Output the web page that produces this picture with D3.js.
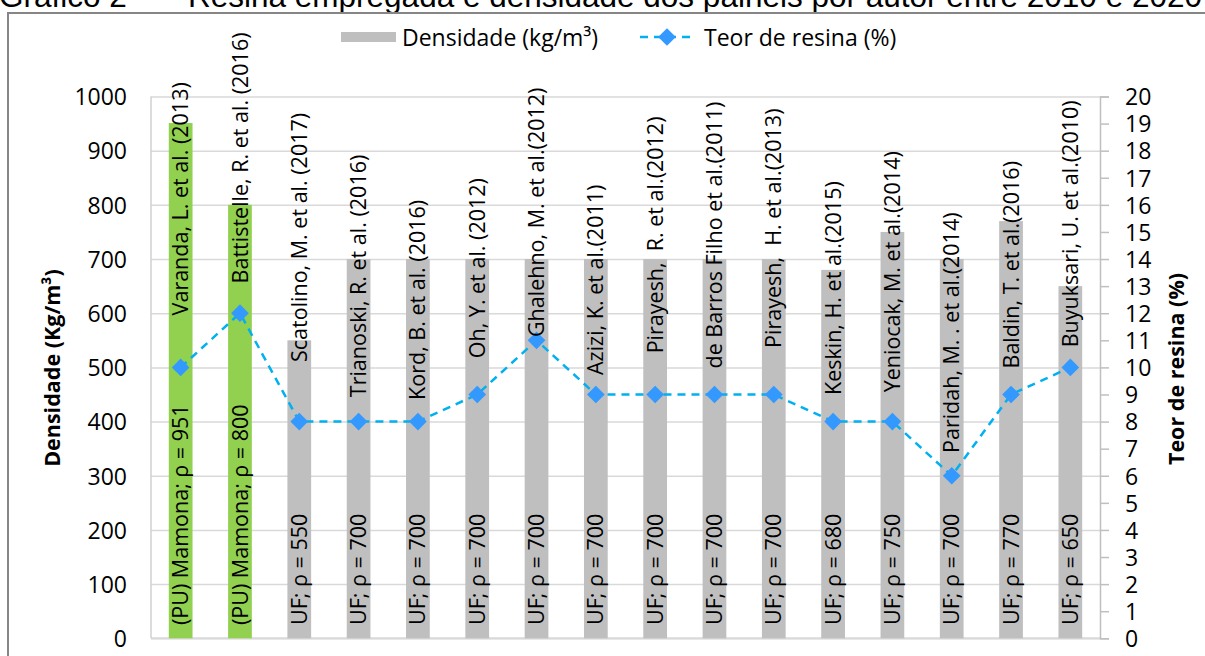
<!DOCTYPE html>
<html>
<head>
<meta charset="utf-8">
<script src="https://cdn.jsdelivr.net/npm/d3@7/dist/d3.min.js"></script>
<style>
  html, body { margin: 0; padding: 0; background: #ffffff; }
  svg { display: block; }
  text { white-space: pre; }
</style>
</head>
<body>
<svg id="chart" width="1205" height="656"></svg>
<script>
// ---------- data ----------
const authors = [
  "Varanda, L. et al. (2013)",
  "Battistelle, R. et al. (2016)",
  "Scatolino, M. et al. (2017)",
  "Trianoski, R. et al. (2016)",
  "Kord, B. et al. (2016)",
  "Oh, Y. et al. (2012)",
  "Ghalehno, M. et al.(2012)",
  "Azizi, K. et al.(2011)",
  "Pirayesh,  R. et al.(2012)",
  "de Barros Filho et al.(2011)",
  "Pirayesh,  H. et al.(2013)",
  "Keskin, H. et al.(2015)",
  "Yeniocak, M. et al.(2014)",
  "Paridah, M. . et al.(2014)",
  "Baldin, T. et al.(2016)",
  "Buyuksari, U. et al.(2010)"
];
const resinTypes = ["(PU) Mamona", "(PU) Mamona", "UF", "UF", "UF", "UF", "UF", "UF",
                    "UF", "UF", "UF", "UF", "UF", "UF", "UF", "UF"];
const density = [951, 800, 550, 700, 700, 700, 700, 700, 700, 700, 700, 680, 750, 700, 770, 650];
const resinContent = [10, 12, 8, 8, 8, 9, 11, 9, 9, 9, 9, 8, 8, 6, 9, 10];
// density-axis value at which each author label begins (label anchor, data units)
const authorLabelAt = [596, 655, 510, 445, 440, 517, 556, 486, 526, 498, 536, 449, 454, 342, 498, 537];
const leftTicks = [0, 100, 200, 300, 400, 500, 600, 700, 800, 900, 1000];
const rightTicks = [0, 1, 2, 3, 4, 5, 6, 7, 8, 9, 10, 11, 12, 13, 14, 15, 16, 17, 18, 19, 20];
const seriesNames = ["Densidade (kg/m³)", "Teor de resina (%)"];
const titleLead = "Gráfico 2 – ";
const titleRest = "Resina empregada e densidade dos painéis por autor entre 2010 e 2020";
const yTitleLeft = "Densidade (Kg/m³)";
const yTitleRight = "Teor de resina (%)";

// ---------- layout ----------
const svg = d3.select("#chart");
const pL = 151, pR = 1100, pT = 96.5, pB = 638.3;
const FONT = "'Open Sans', 'Noto Sans', sans-serif";
const colPU = "#92d050", colUF = "#bfbfbf", lineCol = "#00b0f0", markCol = "#3399ff";

const x = d3.scaleBand().domain(d3.range(authors.length)).range([pL, pR])
  .paddingInner(0.6).paddingOuter(0.3);
const yL = d3.scaleLinear().domain([0, 1000]).range([pB, pT]);
const yR = d3.scaleLinear().domain([0, 20]).range([pB, pT]);
const cx = i => x(i) + x.bandwidth() / 2;

// title (partially cut off at top, as in the source)
svg.append("text").attr("x", -1).attr("y", 7)
  .attr("font-family", "'Liberation Sans', Arial, sans-serif").attr("font-size", 31.5)
  .attr("fill", "#000").text(titleLead);
svg.append("text").attr("x", 188).attr("y", 7)
  .attr("font-family", "'Liberation Sans', Arial, sans-serif").attr("font-size", 31.5)
  .attr("fill", "#000").text(titleRest);

// chart frame
svg.append("path").attr("d", "M8,656 L8,13 L1205,13")
  .attr("fill", "none").attr("stroke", "#868686").attr("stroke-width", 2);

// gridlines
const grid = svg.append("g").attr("transform", `translate(${pL},0)`)
  .call(d3.axisLeft(yL).tickValues(leftTicks).tickSize(-(pR - pL)).tickFormat(""));
grid.select(".domain").remove();
grid.selectAll("line").attr("stroke", "#d9d9d9").attr("stroke-width", 1.5);

// bottom axis line & left axis line
svg.append("line").attr("x1", pL).attr("x2", pR).attr("y1", pB).attr("y2", pB)
  .attr("stroke", "#d9d9d9").attr("stroke-width", 2);
svg.append("line").attr("x1", pL).attr("x2", pL).attr("y1", pT).attr("y2", pB)
  .attr("stroke", "#d0d0d0").attr("stroke-width", 1.5);

// left axis labels
const axL = svg.append("g").attr("transform", `translate(${pL},0)`)
  .call(d3.axisLeft(yL).tickValues(leftTicks).tickSize(0).tickPadding(24).tickFormat(d3.format("d")));
axL.select(".domain").remove();
axL.selectAll("text").attr("font-family", FONT).attr("font-size", 23).attr("fill", "#000").attr("dy", "0.36em");

// right axis
const axR = svg.append("g").attr("transform", `translate(${pR},0)`)
  .call(d3.axisRight(yR).tickValues(rightTicks).tickSize(9).tickPadding(16).tickFormat(d3.format("d")));
axR.select(".domain").attr("stroke", "#bfbfbf").attr("stroke-width", 1.5);
axR.selectAll("line").attr("stroke", "#bfbfbf").attr("stroke-width", 1.5);
axR.selectAll("text").attr("font-family", FONT).attr("font-size", 23).attr("fill", "#000").attr("dy", "0.36em");

// bars
svg.append("g").selectAll("rect").data(density).join("rect")
  .attr("x", (d, i) => x(i)).attr("width", x.bandwidth())
  .attr("y", d => yL(d)).attr("height", d => yL(0) - yL(d))
  .attr("fill", (d, i) => resinTypes[i].includes("PU") ? colPU : colUF);

// line series
const line = d3.line().x((d, i) => cx(i)).y(d => yR(d));
svg.append("path").datum(resinContent).attr("d", line)
  .attr("fill", "none").attr("stroke", lineCol).attr("stroke-width", 2.5)
  .attr("stroke-dasharray", "8,6");
const diamond = d3.symbol().type(d3.symbolDiamond2).size(200);
svg.append("g").selectAll("path").data(resinContent).join("path")
  .attr("d", diamond)
  .attr("transform", (d, i) => `translate(${cx(i)},${yR(d)})`)
  .attr("fill", markCol);

// bottom labels (resin; density)
svg.append("g").selectAll("text").data(density).join("text")
  .attr("transform", (d, i) => `translate(${cx(i)},625) rotate(-90)`)
  .attr("dy", "0.35em").attr("text-anchor", "start")
  .attr("font-family", FONT).attr("font-size", 21.5).attr("fill", "#000")
  .text((d, i) => `${resinTypes[i]}; ρ = ${d}`);

// author labels
svg.append("g").selectAll("text").data(authors).join("text")
  .attr("transform", (d, i) => `translate(${cx(i)},${yL(authorLabelAt[i])}) rotate(-90)`)
  .attr("dy", "0.35em").attr("text-anchor", "start")
  .attr("font-family", FONT).attr("font-size", 21.5).attr("fill", "#000")
  .text(d => d);

// axis titles
svg.append("text").attr("transform", `translate(52,368) rotate(-90)`)
  .attr("text-anchor", "middle").attr("dy", "0.35em")
  .attr("font-family", FONT).attr("font-weight", "bold").attr("font-size", 21.5)
  .attr("fill", "#000").text(yTitleLeft);
svg.append("text").attr("transform", `translate(1176,369) rotate(-90)`)
  .attr("text-anchor", "middle").attr("dy", "0.35em")
  .attr("font-family", FONT).attr("font-weight", "bold").attr("font-size", 21.5)
  .attr("fill", "#000").text(yTitleRight);

// legend
const lg = svg.append("g");
lg.append("rect").attr("x", 341).attr("y", 32).attr("width", 55).attr("height", 10).attr("fill", colUF);
lg.append("text").attr("x", 402).attr("y", 45.5).attr("font-family", FONT).attr("font-size", 23)
  .attr("fill", "#000").text(seriesNames[0]);
lg.append("line").attr("x1", 640).attr("x2", 694).attr("y1", 37).attr("y2", 37)
  .attr("stroke", lineCol).attr("stroke-width", 2.5).attr("stroke-dasharray", "8,6");
lg.append("path").attr("d", diamond).attr("transform", "translate(667,37)").attr("fill", markCol);
lg.append("text").attr("x", 704).attr("y", 45.5).attr("font-family", FONT).attr("font-size", 23)
  .attr("fill", "#000").text(seriesNames[1]);
</script>
</body>
</html>
